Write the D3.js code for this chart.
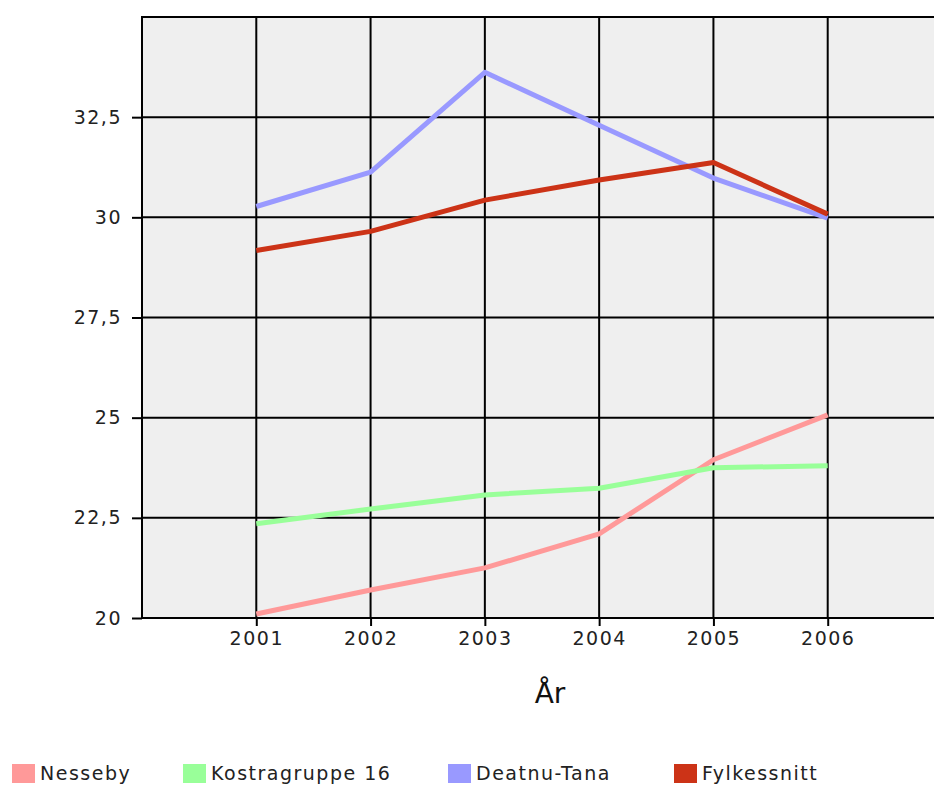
<!DOCTYPE html>
<html>
<head>
<meta charset="utf-8">
<script src="https://cdn.jsdelivr.net/npm/d3@7"></script>
<style>
  body { margin: 0; background: #fff; }
  text { font-family: "DejaVu Sans", Verdana, sans-serif; }
</style>
</head>
<body>
<div id="chart"></div>
<script>
// data
const years = [2001, 2002, 2003, 2004, 2005, 2006];
const nesseby = [20.1, 20.7, 21.25, 22.1, 23.95, 25.07];
const kostra = [22.35, 22.72, 23.07, 23.24, 23.75, 23.8];
const deatnu = [30.27, 31.13, 33.62, 32.3, 30.98, 29.98];
const fylke = [29.17, 29.65, 30.43, 30.93, 31.37, 30.08];
const seriesNames = ["Nesseby", "Kostragruppe 16", "Deatnu-Tana", "Fylkessnitt"];
const seriesColors = ["#ff9999", "#99ff99", "#9999ff", "#cc3317"];
const yTicks = [20, 22.5, 25, 27.5, 30, 32.5];

const width = 934;
const height = 785;

const x = d3.scaleLinear().domain([2000, 2007]).range([142, 942]);
const y = d3.scaleLinear().domain([20, 35]).range([618, 17]);

const svg = d3.select("#chart")
  .append("svg")
  .attr("width", width)
  .attr("height", height);

// plot background
svg.append("rect")
  .attr("x", x(2000))
  .attr("y", y(35))
  .attr("width", x(2007) - x(2000))
  .attr("height", y(20) - y(35))
  .attr("fill", "#efefef");

const fmt = d => String(d).replace(".", ",");

// y axis with gridlines
const yAxis = svg.append("g")
  .attr("transform", `translate(${x(2000)},0)`)
  .call(d3.axisLeft(y).tickValues(yTicks).tickSize(10).tickPadding(10).tickFormat(fmt));
yAxis.select(".domain").remove();
yAxis.selectAll("line").attr("stroke", "#000").attr("stroke-width", 2);
yAxis.selectAll("text")
  .attr("font-size", 19)
  .attr("letter-spacing", "1.5px")
  .attr("fill", "#222");

svg.append("g")
  .selectAll("line")
  .data(yTicks.concat([35]))
  .join("line")
  .attr("x1", x(2000))
  .attr("x2", x(2007))
  .attr("y1", d => y(d))
  .attr("y2", d => y(d))
  .attr("stroke", "#000")
  .attr("stroke-width", 2);

// x axis with gridlines
const xAxis = svg.append("g")
  .attr("transform", `translate(0,${y(20)})`)
  .call(d3.axisBottom(x).tickValues(years).tickSize(8).tickPadding(6).tickFormat(d3.format("d")));
xAxis.select(".domain").remove();
xAxis.selectAll("line").attr("stroke", "#000").attr("stroke-width", 2);
xAxis.selectAll("text")
  .attr("font-size", 19)
  .attr("letter-spacing", "1.5px")
  .attr("fill", "#222");

svg.append("g")
  .selectAll("line")
  .data([2000].concat(years))
  .join("line")
  .attr("x1", d => x(d))
  .attr("x2", d => x(d))
  .attr("y1", y(35) - 1)
  .attr("y2", y(20) + 1)
  .attr("stroke", "#000")
  .attr("stroke-width", 2);

// axis title
svg.append("text")
  .attr("x", 550)
  .attr("y", 703)
  .attr("text-anchor", "middle")
  .attr("font-size", 28)
  .attr("fill", "#111")
  .text("År");

// lines
const allSeries = [nesseby, kostra, deatnu, fylke];
const line = d3.line()
  .x((d, i) => x(years[i]))
  .y(d => y(d));

svg.append("g")
  .selectAll("path")
  .data(allSeries)
  .join("path")
  .attr("d", line)
  .attr("fill", "none")
  .attr("stroke", (d, i) => seriesColors[i])
  .attr("stroke-width", 5)
  .attr("stroke-linejoin", "round");

// legend
const legendX = [12, 183, 448, 674];
const legend = svg.append("g")
  .selectAll("g")
  .data(seriesNames)
  .join("g")
  .attr("transform", (d, i) => `translate(${legendX[i]},764)`);

legend.append("rect")
  .attr("width", 23)
  .attr("height", 19)
  .attr("fill", (d, i) => seriesColors[i]);

legend.append("text")
  .attr("x", 28)
  .attr("y", 16)
  .attr("font-size", 19)
  .attr("letter-spacing", "1.5px")
  .attr("fill", "#222")
  .text(d => d);
</script>
</body>
</html>
